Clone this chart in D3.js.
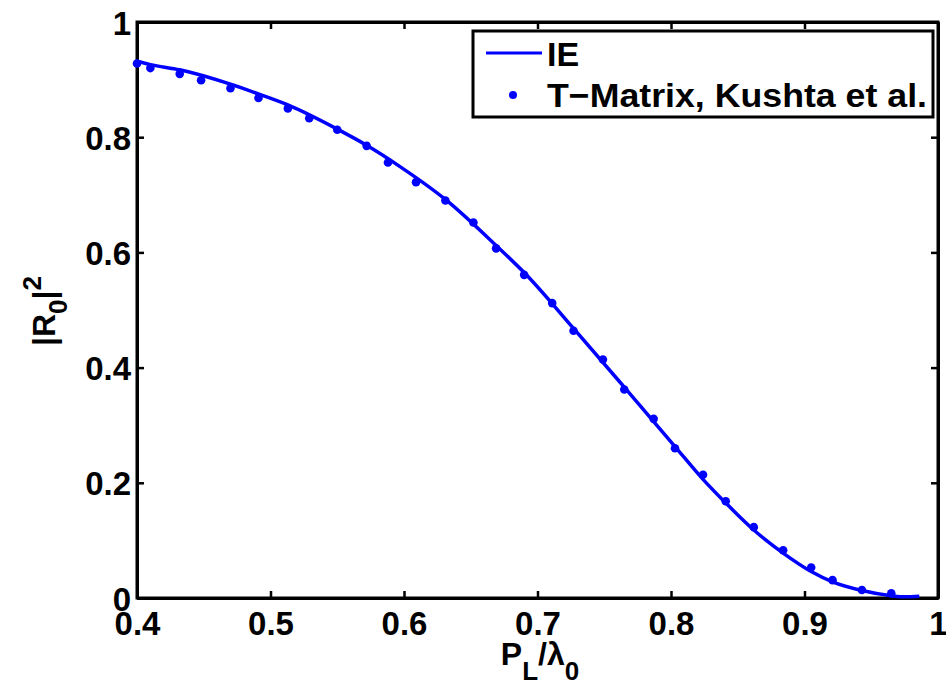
<!DOCTYPE html>
<html>
<head>
<meta charset="utf-8">
<script src="https://cdn.jsdelivr.net/npm/d3@7"></script>
<style>
  html, body { margin: 0; padding: 0; background: #fff; }
  svg { display: block; font-family: "Liberation Sans", Arial, sans-serif; font-weight: bold; }
</style>
</head>
<body>
<svg id="chart" width="946" height="683"></svg>
<script>
// ---- data ----
const ieX = [0.400, 0.410, 0.432, 0.470, 0.491, 0.513, 0.550, 0.572, 0.597, 0.631, 0.669, 0.690, 0.727, 0.765, 0.803, 0.824, 0.841, 0.862, 0.884, 0.905, 0.921, 0.943, 0.965, 0.975, 0.986];
const ieY = [0.932, 0.926, 0.917, 0.892, 0.875, 0.856, 0.814, 0.786, 0.749, 0.692, 0.612, 0.565, 0.468, 0.366, 0.263, 0.206, 0.165, 0.118, 0.078, 0.046, 0.028, 0.013, 0.004, 0.002, 0.003];
const tmX = [0.400, 0.410, 0.432, 0.448, 0.470, 0.491, 0.513, 0.529, 0.550, 0.572, 0.588, 0.609, 0.631, 0.652, 0.669, 0.690, 0.711, 0.727, 0.749, 0.765, 0.787, 0.803, 0.824, 0.841, 0.862, 0.884, 0.905, 0.921, 0.943, 0.965];
const tmY = [0.928, 0.920, 0.910, 0.899, 0.885, 0.868, 0.850, 0.833, 0.813, 0.785, 0.756, 0.722, 0.690, 0.652, 0.607, 0.561, 0.512, 0.464, 0.414, 0.362, 0.311, 0.260, 0.214, 0.168, 0.123, 0.083, 0.053, 0.031, 0.014, 0.008];
const xTicks = [0.4, 0.5, 0.6, 0.7, 0.8, 0.9, 1];
const yTicks = [0, 0.2, 0.4, 0.6, 0.8, 1];
const seriesNames = ["IE", "T\u2212Matrix, Kushta et al."];

// ---- layout ----
const L = 137, R = 938, T = 22, B = 598;
const blue = "#0000ff";
const svg = d3.select("#chart");
const x = d3.scaleLinear().domain([0.4, 1]).range([L, R]);
const y = d3.scaleLinear().domain([0, 1]).range([B, T]);

// axes box
const fmt = d => (d === 0 || d === 1) ? String(d) : d3.format(".1f")(d);
const tickLen = 7;
const gx = svg.append("g").attr("transform", `translate(0,${B})`)
  .call(d3.axisBottom(x).tickValues(xTicks).tickSizeInner(-tickLen).tickSizeOuter(0).tickPadding(14).tickFormat(fmt));
const gy = svg.append("g").attr("transform", `translate(${L},0)`)
  .call(d3.axisLeft(y).tickValues(yTicks).tickSizeInner(-tickLen).tickSizeOuter(0).tickPadding(7).tickFormat(fmt));
const gxt = svg.append("g").attr("transform", `translate(0,${T})`)
  .call(d3.axisTop(x).tickValues(xTicks).tickSizeInner(-tickLen).tickSizeOuter(0).tickFormat(""));
const gyr = svg.append("g").attr("transform", `translate(${R},0)`)
  .call(d3.axisRight(y).tickValues(yTicks).tickSizeInner(-tickLen).tickSizeOuter(0).tickFormat(""));
[gx, gy, gxt, gyr].forEach(g => {
  g.select(".domain").attr("stroke", "#000").attr("stroke-width", 3);
  g.selectAll(".tick line").attr("stroke", "#000").attr("stroke-width", 2.5);
  g.selectAll("text").attr("font-family", "Liberation Sans, Arial, sans-serif")
    .attr("font-weight", "bold").attr("font-size", 33).attr("fill", "#000");
});
gx.selectAll(".tick text").attr("dy", null).attr("y", 37);
gy.selectAll(".tick text").attr("dy", null).attr("y", 12).attr("x", -6);
// closing corners
svg.append("rect").attr("x", L).attr("y", T).attr("width", R - L).attr("height", B - T)
  .attr("fill", "none").attr("stroke", "#000").attr("stroke-width", 3);

// IE curve
const ie = ieX.map((v, i) => [v, ieY[i]]);
svg.append("path").datum(ie)
  .attr("d", d3.line().x(d => x(d[0])).y(d => y(d[1])).curve(d3.curveMonotoneX))
  .attr("fill", "none").attr("stroke", blue).attr("stroke-width", 3.5);

// T-Matrix dots
const tm = tmX.map((v, i) => [v, tmY[i]]);
svg.append("g").selectAll("circle").data(tm).join("circle")
  .attr("cx", d => x(d[0])).attr("cy", d => y(d[1])).attr("r", 4.3).attr("fill", blue);

// axis labels
const xl = svg.append("text").attr("x", 540).attr("y", 665).attr("text-anchor", "middle")
  .attr("font-size", 32).attr("fill", "#000");
xl.append("tspan").text("P");
xl.append("tspan").attr("font-size", 26).attr("dy", 15).text("L");
xl.append("tspan").attr("dy", -15).text("/\u03bb");
xl.append("tspan").attr("font-size", 26).attr("dy", 15).text("0");

const yl = svg.append("text").attr("transform", "translate(55,311) rotate(-90)")
  .attr("text-anchor", "middle").attr("font-size", 32).attr("fill", "#000");
yl.append("tspan").text("|R");
yl.append("tspan").attr("font-size", 26).attr("dy", 12).text("0");
yl.append("tspan").attr("dy", -12).text("|");
yl.append("tspan").attr("font-size", 26).attr("dy", -14).text("2");

// legend
const lg = svg.append("g");
lg.append("rect").attr("x", 473).attr("y", 31).attr("width", 460).attr("height", 86)
  .attr("fill", "#fff").attr("stroke", "#000").attr("stroke-width", 3);
lg.append("line").attr("x1", 486).attr("x2", 542).attr("y1", 53).attr("y2", 53)
  .attr("stroke", blue).attr("stroke-width", 3);
lg.append("circle").attr("cx", 513).attr("cy", 95).attr("r", 4).attr("fill", blue);
lg.append("text").attr("x", 547).attr("y", 66).attr("font-size", 34).attr("fill", "#000").text(seriesNames[0]);
lg.append("text").attr("x", 547).attr("y", 107).attr("font-size", 34).attr("fill", "#000")
  .attr("textLength", 380).attr("lengthAdjust", "spacingAndGlyphs").text(seriesNames[1]);
</script>
</body>
</html>
